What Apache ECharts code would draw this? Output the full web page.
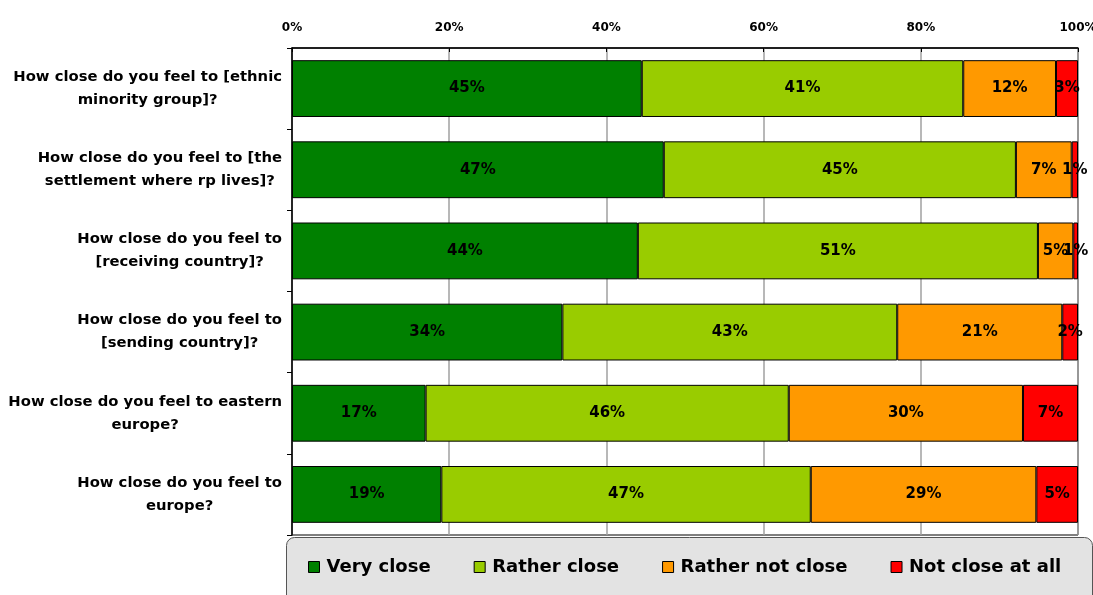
<!DOCTYPE html>
<html>
<head>
<meta charset="utf-8">
<script src="https://cdn.jsdelivr.net/npm/echarts@6/dist/echarts.min.js"></script>
<style>
  html, body { margin: 0; padding: 0; background: #fff; }
  #chart { width: 1093px; height: 595px; }
</style>
</head>
<body>
<div id="chart"></div>
<script>
// Survey questions (one per row, top to bottom)
const categories = [
  'How close do you feel to [ethnic\nminority group]?',
  'How close do you feel to [the\nsettlement where rp lives]?',
  'How close do you feel to\n[receiving country]?',
  'How close do you feel to\n[sending country]?',
  'How close do you feel to eastern\neurope?',
  'How close do you feel to\neurope?'
];

// Answer shares in percent, per row
const veryClose      = [44.5, 47.3, 44.0, 34.4, 17.0, 19.0];
const ratherClose    = [40.9, 44.8, 50.9, 42.6, 46.2, 47.0];
const ratherNotClose = [11.8,  7.1,  4.5, 21.0, 29.8, 28.7];
const notCloseAtAll  = [ 2.8,  0.8,  0.6,  2.0,  7.0,  5.3];

const seriesNames = ['Very close', 'Rather close', 'Rather not close', 'Not close at all'];
const seriesData = [veryClose, ratherClose, ratherNotClose, notCloseAtAll];
const seriesColors = ['#008000', '#99cc00', '#ff9900', '#ff0000'];

const FONT = '"DejaVu Sans", Verdana, sans-serif';

const chart = echarts.init(document.getElementById('chart'), null, { renderer: 'canvas' });

// Centre each line of a question within its right-aligned block
function questionLabel(value) {
  return value.split('\n').map(function (line) { return '{c|' + line + '}'; }).join('\n');
}

const option = {
  animation: false,
  backgroundColor: '#ffffff',
  grid: {
    left: 292, right: 15, top: 48, bottom: 60,
    outerBoundsMode: 'none',
    containLabel: false,
    show: true, borderColor: '#000', borderWidth: 1, backgroundColor: 'transparent'
  },
  xAxis: {
    type: 'value',
    position: 'top',
    min: 0, max: 100, interval: 20,
    axisLine: { show: true, lineStyle: { color: '#000', width: 1.5 } },
    axisTick: { show: true, inside: true, length: 4, lineStyle: { color: '#000' } },
    splitLine: { show: true, lineStyle: { color: '#a0a0a0', width: 1.5 } },
    axisLabel: {
      formatter: '{value}%', color: '#000', fontFamily: FONT, fontWeight: 'bold', fontSize: 12, margin: 14
    }
  },
  yAxis: {
    type: 'category',
    inverse: true,
    data: categories,
    axisLine: { show: true, lineStyle: { color: '#000', width: 1.5 } },
    axisTick: { show: true, length: 5, lineStyle: { color: '#000' } },
    axisLabel: {
      margin: 10,
      align: 'right',
      formatter: questionLabel,
      rich: {
        c: { align: 'center', color: '#000', fontFamily: FONT, fontWeight: 'bold', fontSize: 14.8, lineHeight: 23 }
      }
    }
  },
  legend: {
    left: 303, top: 553,
    itemGap: 43,
    itemWidth: 11, itemHeight: 11,
    icon: 'rect',
    itemStyle: { borderColor: '#000', borderWidth: 1 },
    textStyle: { color: '#000', fontFamily: FONT, fontWeight: 'bold', fontSize: 18, padding: [0, 0, 0, 2] },
    data: seriesNames
  },
  graphic: [{
    type: 'rect',
    z: -1,
    shape: { x: 286.5, y: 537.5, width: 806, height: 80, r: 8 },
    style: { fill: '#e3e3e3', stroke: '#555', lineWidth: 1 }
  }],
  series: seriesNames.map(function (name, i) {
    return {
      name: name,
      type: 'bar',
      stack: 'total',
      barCategoryGap: '30%',
      data: seriesData[i],
      itemStyle: { color: seriesColors[i], borderColor: '#000', borderWidth: 1 },
      label: {
        show: true,
        position: 'inside',
        color: '#000',
        fontFamily: FONT,
        fontWeight: 'bold',
        fontSize: 15,
        formatter: function (p) { return Math.round(p.value) + '%'; }
      },
      emphasis: { disabled: true }
    };
  })
};

chart.setOption(option);
</script>
</body>
</html>
